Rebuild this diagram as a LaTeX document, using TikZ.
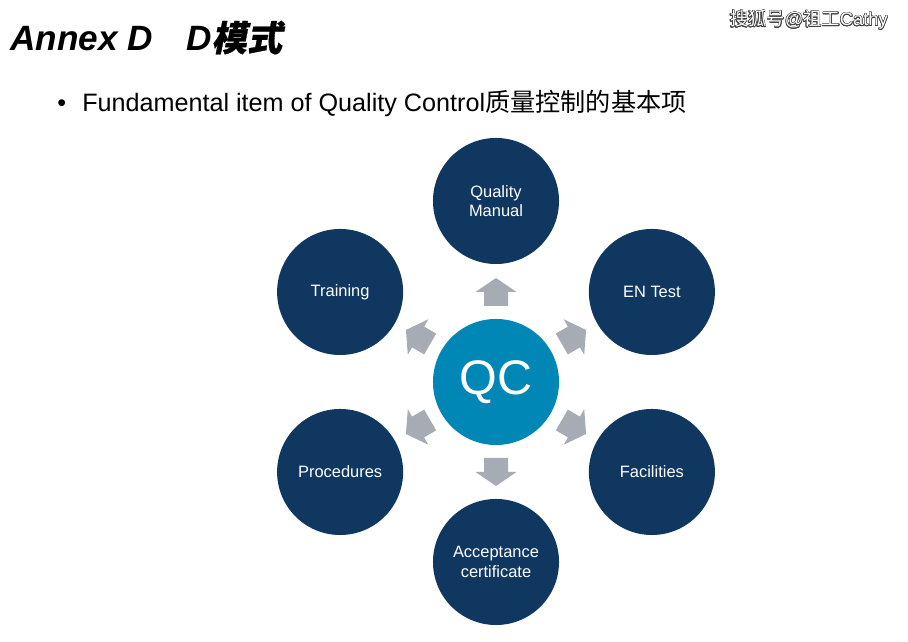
\documentclass[tikz,border=0pt]{standalone}
\usepackage{fontspec}
\usepackage{contour}
\usepackage{tikz}
\usetikzlibrary{calc}
\setmainfont{Liberation Sans}
\newfontfamily\cjk{Noto Sans CJK SC}
\newfontfamily\cjktitle[FakeSlant=0.2,FakeBold=0.8]{Noto Sans CJK SC}
\contourlength{0.4pt}
\definecolor{navycol}{RGB}{15, 55, 96}
\definecolor{qccol}{RGB}{0, 135, 181}
\definecolor{graycol}{RGB}{167, 171, 180}

\begin{document}
\begin{tikzpicture}[
    x=0.025cm, y=0.025cm,
    item/.style={circle, fill=navycol, text=white, minimum size=3.15cm, inner sep=0pt,
                 align=center, font=\fontsize{11.7}{14}\selectfont},
    qcbox/.style={circle, fill=qccol, text=white, minimum size=3.15cm, inner sep=0pt,
                  font=\fontsize{34.5}{40}\selectfont},
    blockarr/.style={fill=graycol}
  ]
  \useasboundingbox (0,0) rectangle (908,642);

  % Title and watermark
  \node[anchor=base west, inner sep=0pt, font=\fontsize{25}{29}\selectfont\bfseries\itshape] (title)
        at (10,591) {Annex D\hspace{0.95em}D{\cjktitle 模式}};
  \node[anchor=base east, inner sep=0pt, text=white, font=\fontsize{13}{15}\selectfont] (mark)
        at (888,616) {\contour{black!75}{{\cjk 搜狐号}@{\cjk 祖工}Cathy}};
  \node[anchor=base west, inner sep=0pt, font=\fontsize{17.9}{21}\selectfont] (bullet)
        at (57,530) {•\hspace{11.5pt}Fundamental item of Quality Control{\cjk 质量控制的基本项}};

  % Centre and items
  \node[qcbox] (qc) at (496,260) {QC};
  \node[item] (manual) at ($(qc)+(90:181)$) {Quality\\Manual};
  \node[item] (entest) at ($(qc)+(30:180)$) {EN Test};
  \node[item] (facil) at ($(qc)+(-30:180)$) {Facilities};
  \node[item] (accept) at ($(qc)+(-90:180)$) {Acceptance\\certificate};
  \node[item] (proc) at ($(qc)+(-150:180)$) {Procedures};
  \node[item] (train) at ($(qc)+(150:180)$) {Training};

  % Block arrows
  \foreach \a in {90,30,-30,-90,-150,150}{
    \begin{scope}[shift={(qc.center)}, rotate=\a]
      \fill[blockarr] (76,-12) -- (90,-12) -- (90,-20.5) -- (104,0)
            -- (90,20.5) -- (90,12) -- (76,12) -- cycle;
    \end{scope}
  }
\end{tikzpicture}
\end{document}
